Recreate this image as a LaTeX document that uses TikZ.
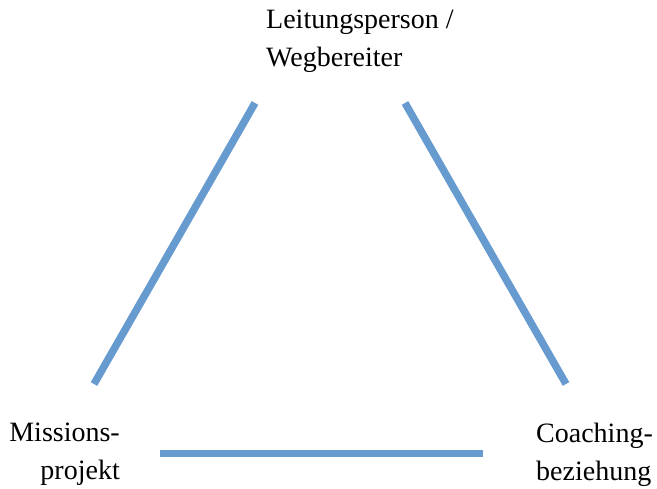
\documentclass[tikz,border=0pt]{standalone}
\usepackage{fontspec}
\setmainfont{Liberation Serif}
\definecolor{linblue}{RGB}{103,155,208}
\begin{document}
\begin{tikzpicture}[x=1pt,y=1pt,
  lbl/.style={inner sep=0pt, font=\fontsize{28}{38}\selectfont},
  edge/.style={draw=linblue, line width=7.5pt}]
\useasboundingbox (0,0) rectangle (657,489);
\node[lbl, align=left, anchor=north west] (top) at (266,479) {Leitungsperson /\\Wegbereiter};
\node[lbl, align=right, anchor=north east] (left) at (120,66) {Missions-\\projekt};
\node[lbl, align=left, anchor=north west] (right) at (536,66) {Coaching-\\beziehung};
\coordinate (tl) at (255,386);
\coordinate (bl) at (94,105);
\coordinate (tr) at (405,386);
\coordinate (br) at (566,105);
\coordinate (lb) at (160,35.5);
\coordinate (rb) at (483,35.5);
\draw[edge] (tl) -- (bl);
\draw[edge] (tr) -- (br);
\draw[edge] (lb) -- (rb);
\end{tikzpicture}
\end{document}
